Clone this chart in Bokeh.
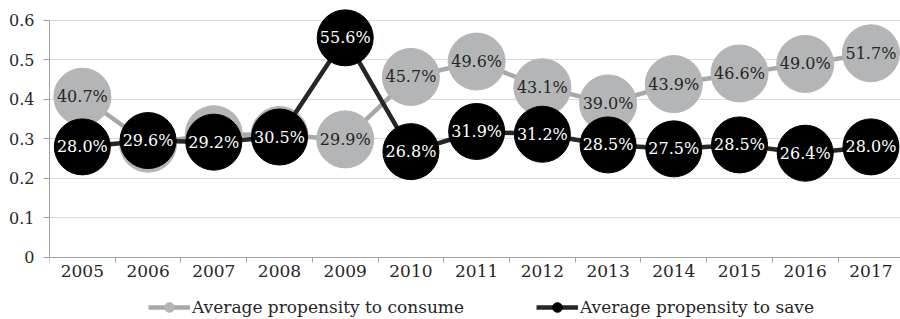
from bokeh.plotting import figure
from bokeh.models import ColumnDataSource, FixedTicker, Range1d, Legend, LegendItem
from bokeh.core.properties import value
from bokeh.embed import file_html
from bokeh.resources import INLINE

years = [2005, 2006, 2007, 2008, 2009, 2010, 2011, 2012, 2013, 2014, 2015, 2016, 2017]
consume = [0.407, 0.288, 0.312, 0.310, 0.299, 0.457, 0.496, 0.431, 0.390, 0.439, 0.466, 0.490, 0.517]
consume_labels = ["40.7%", "", "", "", "29.9%", "45.7%", "49.6%", "43.1%", "39.0%", "43.9%", "46.6%", "49.0%", "51.7%"]
save = [0.280, 0.296, 0.292, 0.305, 0.556, 0.268, 0.319, 0.312, 0.285, 0.275, 0.285, 0.264, 0.280]
save_labels = ["28.0%", "29.6%", "29.2%", "30.5%", "55.6%", "26.8%", "31.9%", "31.2%", "28.5%", "27.5%", "28.5%", "26.4%", "28.0%"]
y_ticks = [0, 0.1, 0.2, 0.3, 0.4, 0.5, 0.6]
y_tick_labels = ["0", "0.1", "0.2", "0.3", "0.4", "0.5", "0.6"]
series_names = ["Average propensity to consume", "Average propensity to save"]

FONT = "DejaVu Serif"
GRAY_FILL = "#b3b5b6"
GRAY_LINE = "#a6a8a9"
DARK_LINE = "#262626"
AXIS_COL = "#a0a0a0"

src_c = ColumnDataSource(dict(x=years, y=consume, lab=consume_labels))
src_s = ColumnDataSource(dict(x=years, y=save, lab=save_labels))

p = figure(width=900, height=319, output_backend="svg", toolbar_location=None,
           x_range=Range1d(2004.5, 2017.45), y_range=Range1d(-0.157, 0.6506),
           min_border_left=49, min_border_right=0, min_border_top=0, min_border_bottom=0)
p.outline_line_color = None
p.background_fill_color = "white"

# x axis drawn at y = 0 inside the frame, so the legend can sit below it
p.xaxis.fixed_location = 0
p.xaxis.ticker = FixedTicker(ticks=years, minor_ticks=[y - 0.5 for y in years] + [years[-1] + 0.5])
p.xaxis.major_tick_line_color = None
p.xaxis.major_tick_out = 5
p.xaxis.major_tick_in = 0
p.xaxis.minor_tick_out = 5
p.xaxis.minor_tick_in = 0
p.xaxis.minor_tick_line_color = AXIS_COL
p.xaxis.axis_line_color = AXIS_COL
p.xaxis.major_label_standoff = 3
p.xaxis.major_label_text_font = FONT
p.xaxis.major_label_text_font_size = "17px"
p.xaxis.major_label_text_color = "#262626"

p.yaxis.ticker = FixedTicker(ticks=y_ticks)
p.yaxis.major_label_overrides = {t: l for t, l in zip(y_ticks, y_tick_labels)}
p.yaxis.bounds = (0, 0.6)
p.yaxis.major_tick_out = 6
p.yaxis.major_tick_in = 0
p.yaxis.minor_tick_line_color = None
p.yaxis.major_tick_line_color = AXIS_COL
p.yaxis.axis_line_color = AXIS_COL
p.yaxis.major_label_standoff = 9
p.yaxis.major_label_text_font = FONT
p.yaxis.major_label_text_font_size = "16px"
p.yaxis.major_label_text_color = "#262626"

p.xgrid.grid_line_color = None
p.ygrid.grid_line_color = "#d9d9d9"
p.ygrid.grid_line_width = 1

# series
lc = p.line("x", "y", source=src_c, line_color=GRAY_LINE, line_width=4.5)
sc = p.scatter("x", "y", source=src_c, size=57, fill_color=GRAY_FILL, line_color=GRAY_FILL)
ls = p.line("x", "y", source=src_s, line_color=DARK_LINE, line_width=4.5)
ss = p.scatter("x", "y", source=src_s, size=56, fill_color="black", line_color="black")

p.text("x", "y", text="lab", source=src_c, text_align="center", text_baseline="middle",
       text_font=value(FONT), text_font_size="16px", text_color="#262626")
p.text("x", "y", text="lab", source=src_s, text_align="center", text_baseline="middle",
       text_font=value(FONT), text_font_size="16px", text_color="white")

legend = Legend(items=[LegendItem(label=series_names[0], renderers=[lc, sc]),
                       LegendItem(label=series_names[1], renderers=[ls, ss])],
                orientation="horizontal", location=(99, 0),
                glyph_width=42, glyph_height=24, label_standoff=2, spacing=72,
                margin=0, padding=0, border_line_color=None, background_fill_alpha=0,
                label_text_font=FONT, label_text_font_size="17px", label_text_color="#262626")
p.add_layout(legend, "center")

open("out.html", "w").write(file_html(p, INLINE))
